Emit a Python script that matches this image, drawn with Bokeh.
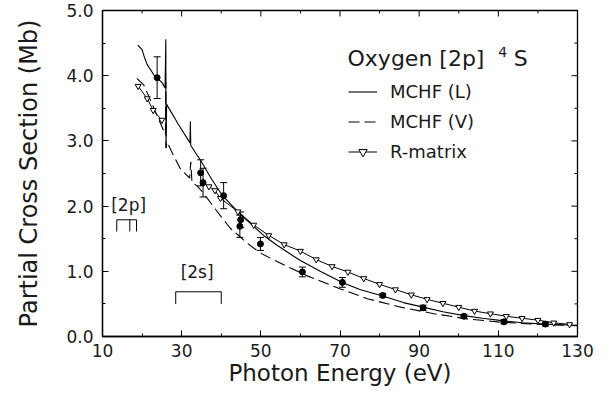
from bokeh.plotting import figure
from bokeh.models import (FixedTicker, Range1d, Whisker, ColumnDataSource,
                          Legend, LegendItem, Label, PrintfTickFormatter, TeeHead)
from bokeh.embed import file_html
from bokeh.resources import INLINE

# ---------------- data ----------------
# MCHF length form (solid)
mchf_l_x = [18.9, 20.0, 20.6, 21.3, 23.0, 25.1, 25.8, 26.0, 26.05, 26.2, 29.0, 32.1, 32.2, 32.3,
            34.8, 37.5, 40.2, 44.9, 50.7, 54.1, 58.3, 60.0, 65.0, 70.6, 75.0, 80.8, 86.0, 91.0,
            96.0, 101.3, 106.0, 111.4, 116.0, 121.9, 126.0, 130.0]
mchf_l_y = [4.47, 4.40, 4.28, 4.17, 4.01, 3.89, 3.81, 4.56, 2.89, 3.56, 3.27, 2.97, 3.30, 2.93,
            2.70, 2.42, 2.17, 1.87, 1.55, 1.40, 1.23, 1.165, 1.00, 0.83, 0.72, 0.62, 0.52, 0.45,
            0.38, 0.32, 0.28, 0.24, 0.21, 0.19, 0.18, 0.17]

# MCHF velocity form (dashed)
mchf_v_x = [18.7, 20.4, 22.0, 24.2, 25.5, 25.9, 26.0, 26.05, 26.3, 28.0, 29.7, 32.0, 32.3, 32.6,
            33.9, 35.6, 37.7, 39.8, 42.3, 46.6, 49.9, 54.1, 57.5, 61.7, 65.5, 70.1, 76.9, 85.3,
            93.7, 102.1, 110.6, 119.0, 127.4, 130.0]
mchf_v_y = [3.96, 3.86, 3.64, 3.33, 3.15, 3.10, 3.91, 2.89, 2.98, 2.77, 2.57, 2.43, 2.68, 2.36,
            2.31, 2.19, 2.02, 1.85, 1.66, 1.43, 1.28, 1.15, 1.05, 0.93, 0.84, 0.73, 0.58, 0.45,
            0.35, 0.27, 0.22, 0.19, 0.17, 0.165]

# R-matrix (open triangles), two branches
rmat_lo_x = [19.0, 21.3, 22.8, 25.0]
rmat_lo_y = [3.84, 3.65, 3.47, 3.32]
rmat_hi_x = [36.9, 38.4, 39.8, 44.2, 48.2, 52.0, 55.9, 60.0, 64.0, 68.0, 72.0, 76.0, 80.0, 84.0,
             88.0, 92.0, 96.0, 100.0, 104.0, 108.0, 112.0, 116.0, 120.0, 124.0, 128.0]
rmat_hi_y = [2.30, 2.24, 2.12, 1.915, 1.71, 1.55, 1.41, 1.31, 1.18, 1.075, 0.99, 0.89, 0.80, 0.72,
             0.64, 0.57, 0.51, 0.45, 0.39, 0.35, 0.31, 0.28, 0.25, 0.21, 0.185]

# experiment (filled circles with error bars)
exp_x = [23.8, 34.8, 35.4, 40.6, 44.9, 44.7, 49.9, 60.5, 70.6, 80.8, 91.0, 101.3, 111.4, 121.9]
exp_y = [3.97, 2.51, 2.36, 2.16, 1.79, 1.69, 1.42, 0.99, 0.83, 0.63, 0.44, 0.31, 0.225, 0.19]
exp_err = [0.32, 0.20, 0.22, 0.20, 0.12, 0.17, 0.10, 0.075, 0.075, 0.03, 0.04, 0.03, 0.03, 0.03]

# ionisation thresholds (eV)
thr_2p = [13.6, 16.9, 18.6]
thr_2s = [28.5, 40.0]

x_ticks = [10, 30, 50, 70, 90, 110, 130]
x_minor = [20, 40, 60, 80, 100, 120]
y_ticks = [0, 1, 2, 3, 4, 5]
y_minor = [0.5, 1.5, 2.5, 3.5, 4.5]

X0, X1, Y0, Y1 = 10, 130, 0, 5

# ---------------- figure ----------------
FONT = "DejaVu Sans"
INK = "#1a1a1a"

p = figure(width=594, height=390, x_range=Range1d(X0, X1), y_range=Range1d(Y0, Y1),
           output_backend="svg", toolbar_location=None,
           min_border_left=102, min_border_right=17, min_border_top=10, min_border_bottom=54,
           x_axis_label="Photon Energy (eV)", y_axis_label="Partial Cross Section (Mb)")
p.grid.visible = False
p.outline_line_color = "black"
p.outline_line_width = 1.3
p.background_fill_color = "white"
p.border_fill_color = "white"

p.xaxis.ticker = FixedTicker(ticks=x_ticks, minor_ticks=x_minor)
p.yaxis.ticker = FixedTicker(ticks=y_ticks, minor_ticks=y_minor)
p.yaxis.formatter = PrintfTickFormatter(format="%.1f")
for ax in p.xaxis + p.yaxis:
    ax.major_tick_in = 6
    ax.major_tick_out = 0
    ax.minor_tick_in = 3
    ax.minor_tick_out = 0
    ax.axis_line_color = "black"
    ax.axis_line_width = 1.3
    ax.major_tick_line_color = "black"
    ax.minor_tick_line_color = "black"
    ax.major_label_text_font = FONT
    ax.major_label_text_font_size = "17px"
    ax.major_label_text_color = INK
    ax.axis_label_text_font = FONT
    ax.axis_label_text_font_style = "normal"
    ax.axis_label_text_color = INK
p.xaxis.axis_label_text_font_size = "23px"
p.yaxis.axis_label_text_font_size = "24px"
p.xaxis.major_label_standoff = 7
p.yaxis.major_label_standoff = 9
p.xaxis.axis_label_standoff = 0
p.yaxis.axis_label_standoff = 20

# inward ticks on the top and right frame edges
tick_major_y = 6 / 65.5   # ~6 px in data units
tick_minor_y = 3 / 65.5
tick_major_x = 6 / 3.958
tick_minor_x = 3 / 3.958
p.segment(x0=x_ticks, y0=[Y1] * len(x_ticks), x1=x_ticks, y1=[Y1 - tick_major_y] * len(x_ticks),
          line_color="black", line_width=1)
p.segment(x0=x_minor, y0=[Y1] * len(x_minor), x1=x_minor, y1=[Y1 - tick_minor_y] * len(x_minor),
          line_color="black", line_width=1)
p.segment(x0=[X1] * len(y_ticks), y0=y_ticks, x1=[X1 - tick_major_x] * len(y_ticks), y1=y_ticks,
          line_color="black", line_width=1)
p.segment(x0=[X1] * len(y_minor), y0=y_minor, x1=[X1 - tick_minor_x] * len(y_minor), y1=y_minor,
          line_color="black", line_width=1)

# curves
l_line = p.line(mchf_l_x, mchf_l_y, line_color="black", line_width=1.1)
v_line = p.line(mchf_v_x, mchf_v_y, line_color="black", line_width=1.1, line_dash="11 5")

r_line1 = p.line(rmat_lo_x, rmat_lo_y, line_color="black", line_width=1)
r_line2 = p.line(rmat_hi_x, rmat_hi_y, line_color="black", line_width=1)
r_pts1 = p.scatter(rmat_lo_x, rmat_lo_y, marker="inverted_triangle", size=6,
                   fill_color="white", line_color="black", line_width=1)
r_pts2 = p.scatter(rmat_hi_x, rmat_hi_y, marker="inverted_triangle", size=6,
                   fill_color="white", line_color="black", line_width=1)

# experiment
src = ColumnDataSource(dict(x=exp_x, y=exp_y,
                            lo=[a - b for a, b in zip(exp_y, exp_err)],
                            hi=[a + b for a, b in zip(exp_y, exp_err)]))
p.add_layout(Whisker(source=src, base="x", lower="lo", upper="hi", dimension="height",
                     line_color="black", line_width=1,
                     upper_head=TeeHead(size=7, line_color="black", line_width=1),
                     lower_head=TeeHead(size=7, line_color="black", line_width=1)))
p.scatter("x", "y", source=src, marker="circle", size=6, fill_color="black", line_color="black")

# threshold brackets
def bracket(thr, y_top, y_bot):
    p.segment(x0=[min(thr)], y0=[y_top], x1=[max(thr)], y1=[y_top], line_color="black", line_width=1)
    p.segment(x0=thr, y0=[y_top] * len(thr), x1=thr, y1=[y_bot] * len(thr),
              line_color="black", line_width=1)

bracket(thr_2p, 1.79, 1.61)
bracket(thr_2s, 0.686, 0.50)
p.add_layout(Label(x=16.6, y=2.02, text="[2p]", text_align="center", text_baseline="middle",
                   text_font=FONT, text_font_size="17px", text_color=INK))
p.add_layout(Label(x=33.9, y=0.99, text="[2s]", text_align="center", text_baseline="middle",
                   text_font=FONT, text_font_size="17px", text_color=INK))

# title text
p.add_layout(Label(x=71.9, y=4.27, text="Oxygen [2p]", text_align="left", text_baseline="alphabetic",
                   text_font=FONT, text_font_size="22px", text_color=INK))
p.add_layout(Label(x=110.0, y=4.36, text="4", text_align="left", text_baseline="alphabetic",
                   text_font=FONT, text_font_size="14px", text_color=INK))
p.add_layout(Label(x=113.9, y=4.27, text="S", text_align="left", text_baseline="alphabetic",
                   text_font=FONT, text_font_size="22px", text_color=INK))

# legend
legend = Legend(items=[LegendItem(label="MCHF (L)", renderers=[l_line]),
                       LegendItem(label="MCHF (V)", renderers=[v_line]),
                       LegendItem(label="R-matrix", renderers=[r_line2, r_pts2])],
                location=(246, 174), orientation="vertical",
                glyph_width=29, glyph_height=21, label_height=21, spacing=9,
                label_standoff=13, padding=0, margin=0,
                border_line_color=None, background_fill_alpha=0,
                label_text_font=FONT, label_text_font_size="18px", label_text_color=INK)
p.add_layout(legend)

open("out.html", "w").write(file_html(p, INLINE))
